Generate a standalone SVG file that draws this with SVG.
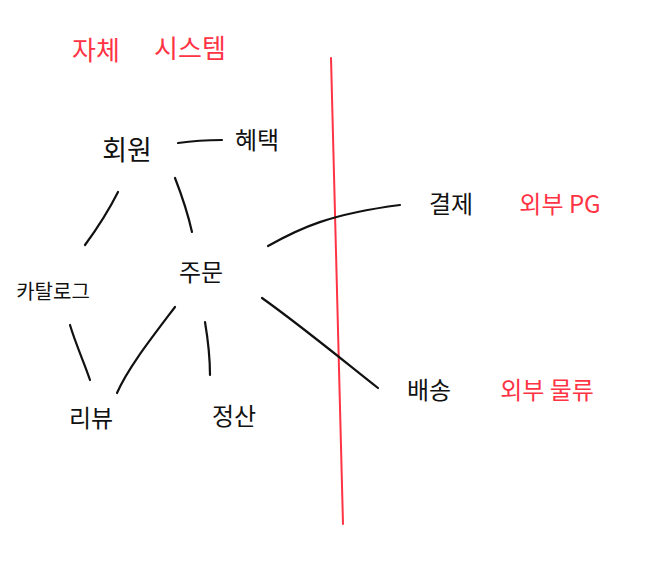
<svg xmlns="http://www.w3.org/2000/svg" width="670" height="562" viewBox="0 0 670 562">
<style>
text{font-family:"Noto Sans CJK KR","Noto Sans",sans-serif;font-size:24px;fill:#111;text-anchor:middle;dominant-baseline:central}
.red{fill:#ff3344}
.ln{fill:none;stroke:#111;stroke-width:2.2;stroke-linecap:round}
.div{fill:none;stroke:#ff3344;stroke-width:2;stroke-linecap:round}
</style>
<rect width="670" height="562" fill="#fff"/>
<g id="label-system"><text class="red" x="96" y="48" style="font-size:26px">자체</text><text class="red" x="190" y="46" style="font-size:26px">시스템</text></g>
<g id="divider"><path class="div" d="M331,58 C335,200 339,360 343,524"/></g>
<g id="connectors">
<path class="ln" d="M178,143 C192,141 208,140 222,140"/>
<path class="ln" d="M118,192 C108,212 96,230 85,245"/>
<path class="ln" d="M175,178 C182,196 188,214 192,232"/>
<path class="ln" d="M70,325 C76,345 84,362 90,380"/>
<path class="ln" d="M175,307 C150,340 128,368 117,393"/>
<path class="ln" d="M205,322 C208,340 210,358 210,375"/>
<path class="ln" d="M268,246 C300,228 330,214 400,205"/>
<path class="ln" d="M262,298 C300,325 340,358 378,388"/>
</g>
<g id="member"><text x="127" y="148" style="font-size:27px">회원</text></g>
<g id="benefit"><text x="257" y="138">혜택</text></g>
<g id="payment"><text x="451" y="202">결제</text></g>
<g id="pg"><text class="red" x="560" y="202">외부 PG</text></g>
<g id="catalog"><text x="53" y="290" style="font-size:20px">카탈로그</text></g>
<g id="order"><text x="201" y="270">주문</text></g>
<g id="delivery"><text x="429" y="388">배송</text></g>
<g id="logistics"><text class="red" x="547" y="388">외부 물류</text></g>
<g id="review"><text x="91" y="416">리뷰</text></g>
<g id="settlement"><text x="234" y="414">정산</text></g>
</svg>
